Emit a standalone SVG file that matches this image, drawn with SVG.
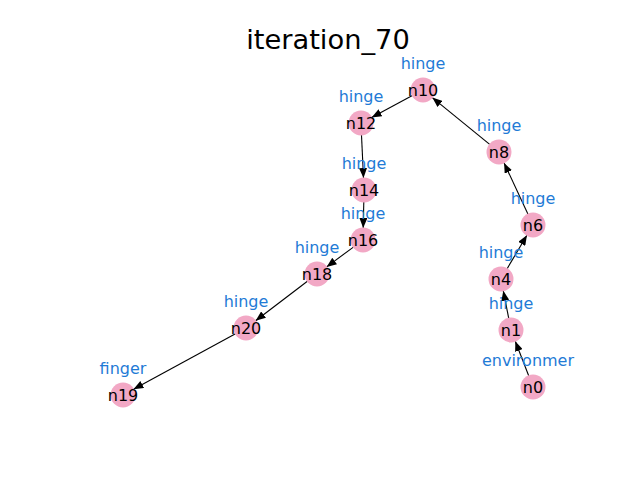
<svg xmlns="http://www.w3.org/2000/svg" width="640" height="480" viewBox="0 0 640 480">
<style>
.node circle{fill:#f2a8c5;stroke:none}
.node text.n{font-family:"DejaVu Sans",sans-serif;font-size:16px;fill:#000;text-anchor:middle;dominant-baseline:central}
.node text.l{font-family:"DejaVu Sans",sans-serif;font-size:16px;fill:#1f7bd6;text-anchor:middle}
#edges line{stroke:#000;stroke-width:1.1;marker-end:url(#arr)}
.title{font-family:"DejaVu Sans",sans-serif;font-size:27.3px;fill:#000;text-anchor:middle}
</style>
<defs>
<marker id="arr" markerUnits="userSpaceOnUse" viewBox="0 0 10 8" refX="10" refY="4" markerWidth="10" markerHeight="8" orient="auto">
<path d="M0,0 L10,4 L0,8 z" fill="#000"/>
</marker>
</defs>
<rect width="640" height="480" fill="#fff"/>
<text class="title" x="328" y="48.5">iteration_70</text>
<g id="edges">
<line x1="528.7" y1="375.8" x2="515.3" y2="341.2"/>
<line x1="508.7" y1="318.2" x2="503.3" y2="290.8"/>
<line x1="507.1" y1="268.7" x2="526.9" y2="235.3"/>
<line x1="527.9" y1="214.1" x2="504.1" y2="162.9"/>
<line x1="489.7" y1="144.4" x2="432.3" y2="97.6"/>
<line x1="412.4" y1="95.6" x2="371.6" y2="117.4"/>
<line x1="361.5" y1="135" x2="363.5" y2="178"/>
<line x1="363.8" y1="202" x2="363.2" y2="228"/>
<line x1="353.4" y1="247.1" x2="326.6" y2="266.9"/>
<line x1="307.4" y1="281.3" x2="255.6" y2="320.7"/>
<line x1="235.5" y1="333.7" x2="133.5" y2="389.3"/>
</g>
<g id="n10" class="node"><circle cx="423" cy="90" r="12.5"/><text class="n" x="423" y="90">n10</text><text class="l" x="423" y="69">hinge</text></g>
<g id="n12" class="node"><circle cx="361" cy="123" r="12.5"/><text class="n" x="361" y="123">n12</text><text class="l" x="361" y="102">hinge</text></g>
<g id="n14" class="node"><circle cx="364" cy="190" r="12.5"/><text class="n" x="364" y="190">n14</text><text class="l" x="364" y="169">hinge</text></g>
<g id="n16" class="node"><circle cx="363" cy="240" r="12.5"/><text class="n" x="363" y="240">n16</text><text class="l" x="363" y="219">hinge</text></g>
<g id="n18" class="node"><circle cx="317" cy="274" r="12.5"/><text class="n" x="317" y="274">n18</text><text class="l" x="317" y="253">hinge</text></g>
<g id="n20" class="node"><circle cx="246" cy="328" r="12.5"/><text class="n" x="246" y="328">n20</text><text class="l" x="246" y="307">hinge</text></g>
<g id="n19" class="node"><circle cx="123" cy="395" r="12.5"/><text class="n" x="123" y="395">n19</text><text class="l" x="123" y="374">finger</text></g>
<g id="n8" class="node"><circle cx="499" cy="152" r="12.5"/><text class="n" x="499" y="152">n8</text><text class="l" x="499" y="131">hinge</text></g>
<g id="n6" class="node"><circle cx="533" cy="225" r="12.5"/><text class="n" x="533" y="225">n6</text><text class="l" x="533" y="204">hinge</text></g>
<g id="n4" class="node"><circle cx="501" cy="279" r="12.5"/><text class="n" x="501" y="279">n4</text><text class="l" x="501" y="258">hinge</text></g>
<g id="n1" class="node"><circle cx="511" cy="330" r="12.5"/><text class="n" x="511" y="330">n1</text><text class="l" x="511" y="309">hinge</text></g>
<g id="n0" class="node"><circle cx="533" cy="387" r="12.5"/><text class="n" x="533" y="387">n0</text><text class="l" x="528" y="366">environmer</text></g>
</svg>
